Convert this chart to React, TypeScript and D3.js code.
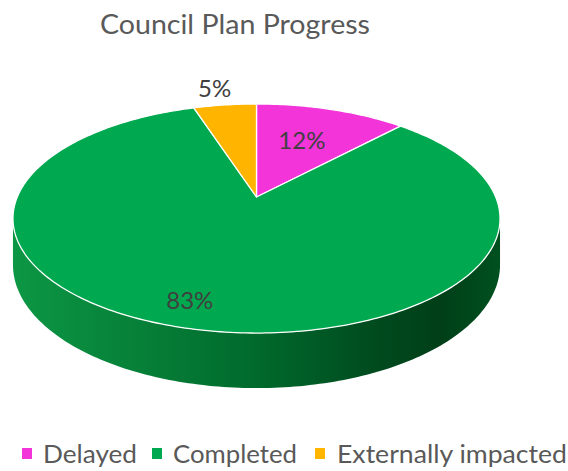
import React from "react";
import * as d3 from "d3";

const categories = ["Delayed", "Completed", "Externally impacted"];
const values = [12, 83, 5];
const colors = ["#f234d8", "#00a94f", "#ffb400"];
const valueLabels = ["12%", "83%", "5%"];
const title = "Council Plan Progress";

const W = 568;
const H = 471;
// perspective projection of the pie disk
const CX = 256.5;
const CY = 197;
const SX = 239.2;
const SY = 110.5;
const K = 0.1878;
const DEPTH = 44.7;

function proj(r: number, a: number, depth = 0): [number, number] {
  const u = r * Math.sin(a);
  const v = -r * Math.cos(a);
  const w = 1 - K * v;
  return [CX + (SX * u) / w, CY + (SY * v) / w + depth / w];
}

const line = d3.line<[number, number]>().x((d) => d[0]).y((d) => d[1]);

function arcPoints(a0: number, a1: number, depth = 0): [number, number][] {
  const n = Math.max(4, Math.ceil(((a1 - a0) / (2 * Math.PI)) * 360));
  return d3.range(n + 1).map((i) => proj(1, a0 + ((a1 - a0) * i) / n, depth));
}

export default function App() {
  const pie = d3.pie<number>().sort(null).value((d) => d);
  const arcs = pie(values);

  const aL = Math.acos(-K); // right silhouette
  const aR = 2 * Math.PI - Math.acos(-K); // left silhouette
  const topEdge = arcPoints(aL, aR, 0);
  const bottomEdge = arcPoints(aL, aR, DEPTH).reverse();
  const sidePath = line([...topEdge, ...bottomEdge]) + "Z";

  const legendItems = [
    { sq: 22, tx: 43, len: 94 },
    { sq: 152, tx: 173, len: 124 },
    { sq: 315, tx: 337, len: 230 },
  ];

  return (
    <svg width={W} height={H} style={{ display: "block", position: "absolute", left: 0, top: 0 }}>
      <defs>
        <linearGradient id="side" gradientUnits="userSpaceOnUse" x1={13} x2={500} y1={0} y2={0}>
          <stop offset="0" stopColor="#0c9744" />
          <stop offset="0.28" stopColor="#067e37" />
          <stop offset="0.5" stopColor="#006a2c" />
          <stop offset="0.75" stopColor="#004a1e" />
          <stop offset="0.88" stopColor="#003f18" />
          <stop offset="1" stopColor="#00501f" />
        </linearGradient>
      </defs>
      <rect width={W} height={H} fill="#ffffff" />
      <text
        x={235}
        y={34}
        textAnchor="middle"
        fontFamily="Lato, 'Open Sans', sans-serif"
        fontSize={26}
        fill="#595959"
        textLength={270}
        lengthAdjust="spacingAndGlyphs"
      >
        {title}
      </text>

      <path d={sidePath} fill="url(#side)" />

      {arcs.map((a, i) => {
        const pts: [number, number][] = [proj(0, 0), ...arcPoints(a.startAngle, a.endAngle)];
        return (
          <path
            key={categories[i]}
            d={line(pts) + "Z"}
            fill={colors[i]}
            stroke="#ffffff"
            strokeWidth={1.3}
            strokeLinejoin="round"
          />
        );
      })}

      {arcs.map((a, i) => {
        const frac = values[i] / d3.sum(values);
        const r = frac < 0.08 ? 1.22 : frac < 0.5 ? 0.6 : 0.83;
        const mid = (a.startAngle + a.endAngle) / 2 + (frac >= 0.5 ? 0.07 : -0.02);
        const [x, y] = proj(r, mid);
        return (
          <text
            key={"l" + i}
            x={x}
            y={y}
            dy="0.36em"
            textAnchor="middle"
            fontFamily="Lato, 'Open Sans', sans-serif"
            fontSize={24}
            fill="#404040"
          >
            {valueLabels[i]}
          </text>
        );
      })}

      {categories.map((c, i) => (
        <g key={"lg" + c}>
          <rect x={legendItems[i].sq} y={448} width={10} height={11} fill={colors[i]} />
          <text
            x={legendItems[i].tx}
            y={463}
            fontFamily="Lato, 'Open Sans', sans-serif"
            fontSize={25}
            fill="#595959"
            textLength={legendItems[i].len}
            lengthAdjust="spacingAndGlyphs"
          >
            {c}
          </text>
        </g>
      ))}
    </svg>
  );
}
